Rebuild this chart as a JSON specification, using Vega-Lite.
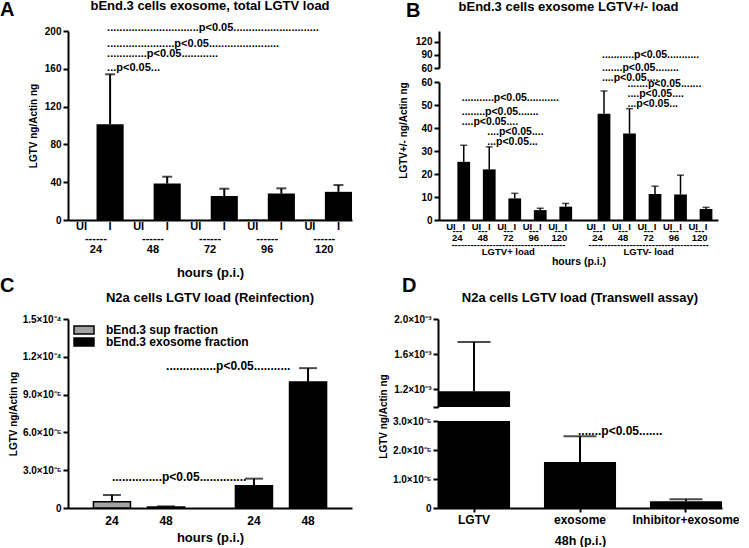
{
 "$schema": "https://vega.github.io/schema/vega-lite/v6.json",
 "padding": 0,
 "background": "white",
 "config": {
  "font": "Liberation Sans",
  "view": {"stroke": null},
  "axis": {"labelFont": "Liberation Sans", "titleFont": "Liberation Sans", "labelFontWeight": "bold", "titleFontWeight": "bold", "labelColor": "black", "titleColor": "black", "labelFontSize": 10, "titleFontSize": 10, "domainColor": "black", "domainWidth": 2, "tickColor": "black", "tickWidth": 2, "tickSize": 5, "labelPadding": 2, "grid": false},
  "axisX": {"labelAngle": 0},
  "title": {"font": "Liberation Sans", "fontWeight": "bold", "fontSize": 13, "color": "black"},
  "text": {"font": "Liberation Sans", "fontWeight": "bold", "color": "black"},
  "legend": {"labelFont": "Liberation Sans", "labelFontWeight": "bold", "labelColor": "black"}
 },
 "datasets": {
  "a": [
   {"cat": "UI|24", "v": 0, "e": null},
   {"cat": "I|24", "v": 101.4, "e": 154.2},
   {"cat": "UI|48", "v": 0, "e": null},
   {"cat": "I|48", "v": 38.5, "e": 45.8},
   {"cat": "UI|72", "v": 0, "e": null},
   {"cat": "I|72", "v": 25.4, "e": 33.1},
   {"cat": "UI|96", "v": 0.4, "e": null},
   {"cat": "I|96", "v": 28.0, "e": 33.5},
   {"cat": "UI|120", "v": 0.3, "e": null},
   {"cat": "I|120", "v": 29.8, "e": 37.0}
  ],
  "annA": [
   {"cat": "I|24", "y": 202.9, "label": "..............................p<0.05............................"},
   {"cat": "I|24", "y": 186.2, "label": "......................p<0.05......................."},
   {"cat": "I|24", "y": 175.7, "label": ".............p<0.05............"},
   {"cat": "I|24", "y": 160.5, "label": "...p<0.05..."}
  ],
  "b": [
   {"cat": "UI|24|+", "v": 0, "e": null},
   {"cat": "I|24|+", "v": 25.3, "e": 32.5},
   {"cat": "UI|48|+", "v": 0, "e": null},
   {"cat": "I|48|+", "v": 22.0, "e": 31.8},
   {"cat": "UI|72|+", "v": 0, "e": null},
   {"cat": "I|72|+", "v": 9.4, "e": 11.6},
   {"cat": "UI|96|+", "v": 0, "e": null},
   {"cat": "I|96|+", "v": 4.3, "e": 5.1},
   {"cat": "UI|120|+", "v": 0, "e": null},
   {"cat": "I|120|+", "v": 5.8, "e": 7.2},
   {"cat": "UI|24|-", "v": 0, "e": null},
   {"cat": "I|24|-", "v": 46.2, "e": 56.1},
   {"cat": "UI|48|-", "v": 0, "e": null},
   {"cat": "I|48|-", "v": 37.6, "e": 48.4},
   {"cat": "UI|72|-", "v": 0, "e": null},
   {"cat": "I|72|-", "v": 11.3, "e": 14.7},
   {"cat": "UI|96|-", "v": 0, "e": null},
   {"cat": "I|96|-", "v": 11.1, "e": 19.5},
   {"cat": "UI|120|-", "v": 0, "e": null},
   {"cat": "I|120|-", "v": 4.8, "e": 5.5}
  ],
  "annB": [
   {"cat": "I|24|+", "y": 53.0, "label": "...........p<0.05..........."},
   {"cat": "I|24|+", "y": 47.0, "label": "........p<0.05......."},
   {"cat": "I|24|+", "y": 42.6, "label": "....p<0.05...."},
   {"cat": "I|48|+", "y": 38.3, "label": "....p<0.05...."},
   {"cat": "I|48|+", "y": 33.9, "label": "...p<0.05..."},
   {"cat": "I|24|-", "y": 71.7, "label": "...........p<0.05..........."},
   {"cat": "I|24|-", "y": 66.1, "label": ".......p<0.05........"},
   {"cat": "I|24|-", "y": 61.7, "label": "....p<0.05...."},
   {"cat": "I|48|-", "y": 59.1, "label": ".......p<0.05......."},
   {"cat": "I|48|-", "y": 54.8, "label": "....p<0.05...."},
   {"cat": "I|48|-", "y": 50.4, "label": "...p<0.05..."}
  ],
  "c": [
   {"frac": "bEnd.3 sup fraction", "hour": "24", "v": 0.0000050, "e": 0.0000103},
   {"frac": "bEnd.3 sup fraction", "hour": "48", "v": 0.0000008, "e": 0.0000013},
   {"frac": "bEnd.3 exosome fraction", "hour": "24", "v": 0.0000177, "e": 0.0000233},
   {"frac": "bEnd.3 exosome fraction", "hour": "48", "v": 0.000100, "e": 0.000111}
  ],
  "annC": [
   {"frac": "bEnd.3 sup fraction", "hour": "48", "y": 0.000113, "label": "...............p<0.05..........."},
   {"frac": "bEnd.3 sup fraction", "hour": "24", "y": 0.000025, "label": "...............p<0.05.............."}
  ],
  "d": [
   {"cond": "LGTV", "v": 0.00118, "e": 0.00174},
   {"cond": "exosome", "v": 0.0000159, "e": 0.0000247},
   {"cond": "Inhibitor+exosome", "v": 0.0000023, "e": 0.0000030}
  ],
  "annD": [
   {"cond": "exosome", "y": 0.0000267, "label": ".......p<0.05......."}
  ]
 },
 "spacing": -5,
 "resolve": {"scale": {"color": "independent"}, "legend": {"color": "independent"}},
 "vconcat": [
  {
   "spacing": 46,
   "hconcat": [
    {
     "title": {"text": "A", "anchor": "start", "frame": "group", "fontSize": 20, "dx": -68, "offset": -20},
     "bounds": "flush",
     "vconcat": [
      {
       "width": 284,
       "height": 189,
       "title": {"text": "bEnd.3 cells exosome, total LGTV load", "offset": 9},
       "data": {"name": "a"},
       "resolve": {"axis": {"x": "independent", "y": "independent"}},
       "layer": [
        {
         "mark": {"type": "bar", "color": "black"},
         "encoding": {
          "x": {"field": "cat", "type": "nominal", "scale": {"domain": ["UI|24", "I|24", "UI|48", "I|48", "UI|72", "I|72", "UI|96", "I|96", "UI|120", "I|120"], "paddingInner": 0.05, "paddingOuter": 0},
                "axis": {"orient": "bottom", "title": null, "labelExpr": "split(datum.value,'|')[0]", "ticks": false, "tickSize": 0, "labelPadding": 0, "labelFontSize": 11}},
          "y": {"field": "v", "type": "quantitative", "scale": {"domain": [0, 200], "nice": false},
                "axis": {"orient": "left", "values": [0, 40, 80, 120, 160, 200], "title": "LGTV ng/Actin ng", "titlePadding": 6}}
         }
        },
        {
         "transform": [{"filter": "datum.e != null"}],
         "mark": {"type": "rule", "color": "black", "strokeWidth": 2},
         "encoding": {
          "x": {"field": "cat", "type": "nominal",
                "axis": {"orient": "bottom", "title": "hours (p.i.)", "titleFontSize": 13, "titlePadding": 12, "labelExpr": "split(datum.value,'|')[0]=='I' ? ['------', split(datum.value,'|')[1]] : ''", "domain": false, "ticks": false, "tickSize": 0, "labelPadding": 0, "offset": 12, "labelOffset": -14.2, "labelLineHeight": 11.7, "labelFontSize": 11}},
          "y": {"field": "v", "type": "quantitative", "axis": null},
          "y2": {"field": "e"}
         }
        },
        {
         "transform": [{"filter": "datum.e != null"}],
         "mark": {"type": "tick", "orient": "horizontal", "color": "black", "size": 10, "thickness": 2},
         "encoding": {
          "x": {"field": "cat", "type": "nominal", "axis": null},
          "y": {"field": "e", "type": "quantitative", "axis": null}
         }
        },
        {
         "data": {"name": "annA"},
         "mark": {"type": "text", "align": "left", "baseline": "middle", "dx": -3, "fontSize": 11},
         "encoding": {
          "x": {"field": "cat", "type": "nominal", "axis": null},
          "y": {"field": "y", "type": "quantitative", "axis": null},
          "text": {"field": "label"}
         }
        }
       ]
      }
     ]
    },
    {
     "title": {"text": "B", "anchor": "start", "frame": "group", "fontSize": 20, "dx": -33, "offset": -20},
     "bounds": "flush",
     "spacing": 14,
     "vconcat": [
      {
       "width": 279,
       "height": 37,
       "title": {"text": "bEnd.3 cells exosome LGTV+/- load", "offset": 17.5, "dx": -10},
       "data": {"name": "b"},
       "mark": {"type": "bar", "color": "black", "clip": true},
       "encoding": {
        "x": {"field": "cat", "type": "nominal", "scale": {"domain": ["UI|24|+", "I|24|+", "UI|48|+", "I|48|+", "UI|72|+", "I|72|+", "UI|96|+", "I|96|+", "UI|120|+", "I|120|+", "gap", "UI|24|-", "I|24|-", "UI|48|-", "I|48|-", "UI|72|-", "I|72|-", "UI|96|-", "I|96|-", "UI|120|-", "I|120|-"], "paddingInner": 0, "paddingOuter": 0.44}, "axis": null},
        "y": {"field": "v", "type": "quantitative", "scale": {"domain": [60, 145], "nice": false, "zero": false}, "axis": {"values": [60, 90, 120], "title": null}}
       }
      },
      {
       "width": 279,
       "height": 138,
       "data": {"name": "b"},
       "resolve": {"axis": {"x": "independent", "y": "independent"}},
       "layer": [
        {
         "mark": {"type": "bar", "color": "black"},
         "encoding": {
          "x": {"field": "cat", "type": "nominal", "scale": {"domain": ["UI|24|+", "I|24|+", "UI|48|+", "I|48|+", "UI|72|+", "I|72|+", "UI|96|+", "I|96|+", "UI|120|+", "I|120|+", "gap", "UI|24|-", "I|24|-", "UI|48|-", "I|48|-", "UI|72|-", "I|72|-", "UI|96|-", "I|96|-", "UI|120|-", "I|120|-"], "paddingInner": 0, "paddingOuter": 0.44},
                "axis": {"orient": "bottom", "title": null, "labelExpr": "datum.value=='gap' ? '' : split(datum.value,'|')[0]", "ticks": false, "tickSize": 0, "labelPadding": 1, "labelFontSize": 9.5}},
          "y": {"field": "v", "type": "quantitative", "scale": {"domain": [0, 60], "nice": false},
                "axis": {"orient": "left", "values": [0, 10, 20, 30, 40, 50, 60], "title": "LGTV+/- ng/Actin ng", "titleY": 48, "titlePadding": 12}}
         }
        },
        {
         "transform": [{"filter": "datum.e != null"}],
         "mark": {"type": "rule", "color": "black", "strokeWidth": 1.5},
         "encoding": {
          "x": {"field": "cat", "type": "nominal",
                "axis": {"orient": "bottom", "title": null, "labelExpr": "split(datum.value,'|')[0]=='I' ? ['---', split(datum.value,'|')[1]] : ''", "domain": false, "ticks": false, "tickSize": 0, "labelPadding": 0, "offset": 5, "labelOffset": -6.4, "labelLineHeight": 7.6, "labelFontSize": 9.5}},
          "y": {"field": "v", "type": "quantitative", "axis": null},
          "y2": {"field": "e"}
         }
        },
        {
         "transform": [{"filter": "datum.e != null"}],
         "mark": {"type": "tick", "orient": "horizontal", "color": "black", "size": 7, "thickness": 1.5},
         "encoding": {
          "x": {"field": "cat", "type": "nominal",
                "axis": {"orient": "bottom", "title": "hours (p.i.)", "titleFontSize": 10.5, "titlePadding": 1, "labelExpr": "datum.value=='I|72|+' ? ['------------------------------------','LGTV+ load'] : datum.value=='I|72|-' ? ['--------------------------------------','LGTV- load'] : ''", "domain": false, "ticks": false, "tickSize": 0, "labelPadding": 0, "offset": 19, "labelOffset": -6.4, "labelLineHeight": 7.3, "labelFontSize": 9.5}},
          "y": {"field": "e", "type": "quantitative", "axis": null}
         }
        },
        {
         "data": {"name": "annB"},
         "mark": {"type": "text", "align": "left", "baseline": "middle", "dx": -2, "fontSize": 10.5},
         "encoding": {
          "x": {"field": "cat", "type": "nominal", "axis": null},
          "y": {"field": "y", "type": "quantitative", "axis": null},
          "text": {"field": "label"}
         }
        }
       ]
      }
     ]
    }
   ]
  },
  {
   "spacing": 26,
   "resolve": {"scale": {"color": "independent"}, "legend": {"color": "independent"}},
   "hconcat": [
    {
     "title": {"text": "C", "anchor": "start", "frame": "group", "fontSize": 20, "dx": -68, "offset": -4},
     "bounds": "flush",
     "resolve": {"scale": {"color": "independent"}, "legend": {"color": "independent"}},
     "vconcat": [
      {
       "width": 284,
       "height": 189,
       "title": {"text": "N2a cells LGTV load (Reinfection)", "offset": 9.5},
       "data": {"name": "c"},
       "resolve": {"axis": {"x": "independent", "y": "independent"}},
       "layer": [
        {
         "mark": {"type": "bar", "stroke": "black", "strokeWidth": 1.5},
         "encoding": {
          "x": {"field": "frac", "type": "nominal", "scale": {"domain": ["bEnd.3 sup fraction", "bEnd.3 exosome fraction"], "paddingInner": 0, "paddingOuter": 0},
                "axis": {"orient": "bottom", "labels": false, "ticks": false, "tickSize": 0, "title": "hours (p.i.)", "titleFontSize": 13, "titlePadding": 23}},
          "xOffset": {"field": "hour", "type": "nominal", "scale": {"domain": ["24", "48"], "paddingInner": 0.315, "paddingOuter": 0.47}},
          "y": {"field": "v", "type": "quantitative", "scale": {"domain": [0, 0.00015], "nice": false},
                "axis": {"orient": "left", "values": [0, 0.00003, 0.00006, 0.00009, 0.00012, 0.00015], "labelExpr": "datum.value == 0 ? '0' : datum.value < 0.00011 ? format(datum.value*100000, '.1f') + '×10⁻⁵' : format(datum.value*10000, '.1f') + '×10⁻⁴'", "title": "LGTV ng/Actin ng"}},
          "color": {"field": "frac", "type": "nominal", "scale": {"domain": ["bEnd.3 sup fraction", "bEnd.3 exosome fraction"], "range": ["#a3a3a3", "black"]},
                    "legend": {"orient": "top-left", "offset": 5, "title": null, "padding": 0, "symbolType": "M-1,-0.4H1V0.4H-1Z", "symbolSize": 400, "symbolStrokeColor": "black", "symbolStrokeWidth": 1.5, "labelFontSize": 12, "labelOffset": 11, "clipHeight": 12, "rowPadding": 0}}
         }
        },
        {
         "mark": {"type": "rule", "color": "black", "strokeWidth": 2},
         "encoding": {
          "x": {"field": "frac", "type": "nominal", "axis": null},
          "xOffset": {"field": "hour", "type": "nominal"},
          "y": {"field": "v", "type": "quantitative", "axis": null},
          "y2": {"field": "e"}
         }
        },
        {
         "mark": {"type": "tick", "orient": "horizontal", "color": "black", "size": 18, "thickness": 2},
         "encoding": {
          "x": {"field": "frac", "type": "nominal", "axis": null},
          "xOffset": {"field": "hour", "type": "nominal"},
          "y": {"field": "e", "type": "quantitative", "axis": null}
         }
        },
        {
         "data": {"name": "annC"},
         "mark": {"type": "text", "align": "left", "baseline": "middle", "dx": 0, "fontSize": 12},
         "encoding": {
          "x": {"field": "frac", "type": "nominal", "axis": null},
          "xOffset": {"field": "hour", "type": "nominal"},
          "y": {"field": "y", "type": "quantitative", "axis": null},
          "text": {"field": "label"}
         }
        },
        {
         "mark": {"type": "text", "baseline": "middle", "dy": 12.5, "fontSize": 12},
         "encoding": {
          "x": {"field": "frac", "type": "nominal", "axis": null},
          "xOffset": {"field": "hour", "type": "nominal"},
          "y": {"datum": 0, "type": "quantitative", "axis": null},
          "text": {"field": "hour"}
         }
        }
       ]
      }
     ]
    },
    {
     "title": {"text": "D", "anchor": "start", "frame": "group", "fontSize": 20, "dx": -36, "offset": -4},
     "bounds": "flush",
     "spacing": 14,
     "vconcat": [
      {
       "width": 284,
       "height": 88,
       "title": {"text": "N2a cells LGTV load (Transwell assay)", "offset": 9.5},
       "data": {"name": "d"},
       "resolve": {"axis": {"x": "independent", "y": "independent"}},
       "layer": [
        {
         "mark": {"type": "bar", "color": "black", "clip": true},
         "encoding": {
          "x": {"field": "cond", "type": "nominal", "scale": {"domain": ["LGTV", "exosome", "Inhibitor+exosome"], "paddingInner": 0.32, "paddingOuter": 0}, "axis": null},
          "y": {"field": "v", "type": "quantitative", "scale": {"domain": [0.001, 0.002], "nice": false, "zero": false},
                "axis": {"orient": "left", "values": [0.001, 0.0012, 0.0016, 0.002], "labelExpr": "datum.value < 0.0011 ? '' : format(datum.value*1000, '.1f') + '×10⁻³'", "title": null}}
         }
        },
        {
         "mark": {"type": "rule", "color": "black", "strokeWidth": 2, "clip": true},
         "encoding": {
          "x": {"field": "cond", "type": "nominal", "axis": null},
          "y": {"field": "v", "type": "quantitative", "axis": null},
          "y2": {"field": "e"}
         }
        },
        {
         "mark": {"type": "tick", "orient": "horizontal", "color": "black", "size": 33, "thickness": 2, "clip": true},
         "encoding": {
          "x": {"field": "cond", "type": "nominal", "axis": null},
          "y": {"field": "e", "type": "quantitative", "axis": null}
         }
        }
       ]
      },
      {
       "width": 284,
       "height": 87,
       "data": {"name": "d"},
       "resolve": {"axis": {"x": "independent", "y": "independent"}},
       "layer": [
        {
         "mark": {"type": "bar", "color": "black", "clip": true},
         "encoding": {
          "x": {"field": "cond", "type": "nominal", "scale": {"domain": ["LGTV", "exosome", "Inhibitor+exosome"], "paddingInner": 0.32, "paddingOuter": 0},
                "axis": {"orient": "bottom", "title": "48h (p.i.)", "titleFontSize": 12.5, "titlePadding": 9, "labelFontSize": 12, "tickSize": 4, "labelPadding": 2}},
          "y": {"field": "v", "type": "quantitative", "scale": {"domain": [0, 0.00003], "nice": false},
                "axis": {"orient": "left", "values": [0, 0.00001, 0.00002, 0.00003], "labelExpr": "datum.value == 0 ? '0' : format(datum.value*100000, '.1f') + '×10⁻⁵'", "title": "LGTV ng/Actin ng", "titleY": -5}}
         }
        },
        {
         "mark": {"type": "rule", "color": "black", "strokeWidth": 2, "clip": true},
         "encoding": {
          "x": {"field": "cond", "type": "nominal", "axis": null},
          "y": {"field": "v", "type": "quantitative", "axis": null},
          "y2": {"field": "e"}
         }
        },
        {
         "mark": {"type": "tick", "orient": "horizontal", "color": "black", "size": 33, "thickness": 2, "clip": true},
         "encoding": {
          "x": {"field": "cond", "type": "nominal", "axis": null},
          "y": {"field": "e", "type": "quantitative", "axis": null}
         }
        },
        {
         "data": {"name": "annD"},
         "mark": {"type": "text", "align": "left", "baseline": "middle", "dx": -2, "fontSize": 12},
         "encoding": {
          "x": {"field": "cond", "type": "nominal", "axis": null},
          "y": {"field": "y", "type": "quantitative", "axis": null},
          "text": {"field": "label"}
         }
        }
       ]
      }
     ]
    }
   ]
  }
 ]
}
